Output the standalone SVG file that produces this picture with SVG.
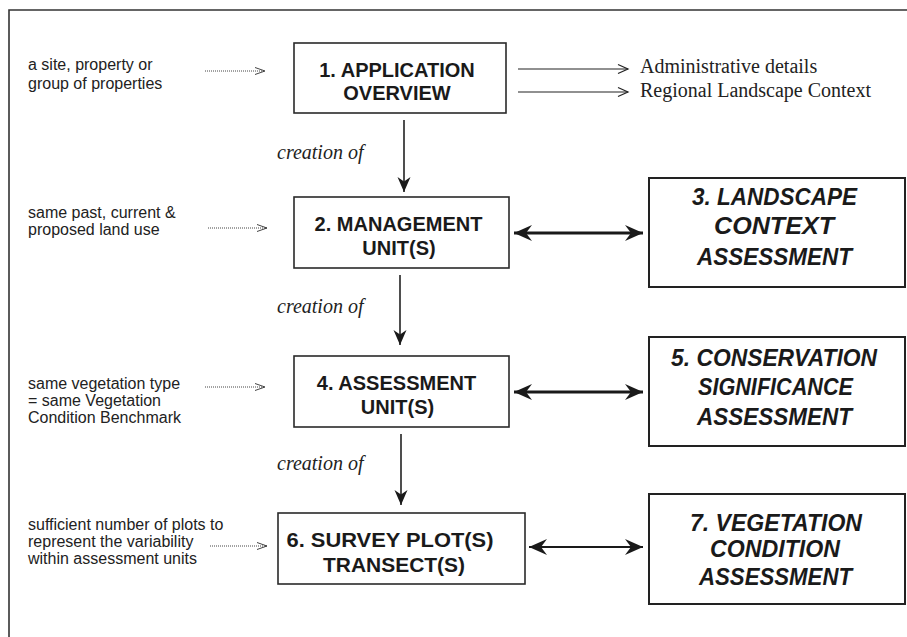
<svg xmlns="http://www.w3.org/2000/svg" width="907" height="637" viewBox="0 0 907 637">
<style>
.box{fill:#fff;stroke:#2a2a2a;stroke-width:1.6}
.bigbox{fill:#fff;stroke:#222;stroke-width:2}
.t{font-family:"Liberation Sans",Arial,sans-serif;font-weight:bold;font-size:20px;fill:#1a1a1a;text-anchor:middle}
.ti{font-family:"Liberation Sans",Arial,sans-serif;font-weight:bold;font-style:italic;font-size:24px;fill:#1a1a1a;text-anchor:middle}
.note{font-family:"Liberation Sans",Arial,sans-serif;font-size:16px;fill:#222}
.serif{font-family:"Liberation Serif","Times New Roman",serif;font-size:20px;fill:#222}
.it{font-family:"Liberation Serif","Times New Roman",serif;font-style:italic;font-size:20px;fill:#222}
.frame{fill:none;stroke:#333;stroke-width:1.6}
.down{stroke:#222;stroke-width:1.6;fill:none;marker-end:url(#fill)}
.dbl{stroke:#1a1a1a;stroke-width:3;fill:none;marker-start:url(#big);marker-end:url(#big)}
.dbl2{stroke:#1a1a1a;stroke-width:2.2;fill:none;marker-start:url(#big);marker-end:url(#big)}
.thin{stroke:#222;stroke-width:1.2;fill:none;marker-end:url(#open)}
.dot{stroke:#444;stroke-width:1;stroke-dasharray:1 1;fill:none;marker-end:url(#openS)}
</style>
<defs>
<marker id="fill" markerUnits="userSpaceOnUse" markerWidth="16" markerHeight="16" viewBox="-16 -8 16 16" refX="0" refY="0" orient="auto">
<path d="M0,0 L-15,-6.5 L-10.5,0 L-15,6.5 Z" fill="#1a1a1a"/>
</marker>
<marker id="big" markerUnits="userSpaceOnUse" markerWidth="20" markerHeight="20" viewBox="-20 -10 20 20" refX="0" refY="0" orient="auto-start-reverse">
<path d="M0,0 L-18,-8 L-12,0 L-18,8 Z" fill="#1a1a1a"/>
</marker>
<marker id="open" markerUnits="userSpaceOnUse" markerWidth="14" markerHeight="12" viewBox="-12 -6 14 12" refX="0" refY="0" orient="auto">
<path d="M-10,-4.5 L0,0 L-10,4.5" fill="none" stroke="#222" stroke-width="1.2"/>
</marker>
<marker id="openS" markerUnits="userSpaceOnUse" markerWidth="14" markerHeight="12" viewBox="-12 -6 14 12" refX="0" refY="0" orient="auto">
<path d="M-10,-3.5 L0,0 L-10,3.5" fill="none" stroke="#444" stroke-width="1"/>
</marker>
</defs>

<path class="frame" d="M9,637 L9,10 L907,10"/>

<g id="connectors">
<line class="down" x1="404" y1="120" x2="404" y2="192"/>
<line class="down" x1="400" y1="275" x2="400" y2="345"/>
<line class="down" x1="401" y1="434" x2="401" y2="505"/>
<line class="dbl" x1="514" y1="233" x2="643" y2="233"/>
<line class="dbl" x1="514" y1="392" x2="643" y2="392"/>
<line class="dbl2" x1="529" y1="547" x2="643" y2="547"/>
<line class="thin" x1="518" y1="69" x2="628" y2="69"/>
<line class="thin" x1="518" y1="92" x2="628" y2="92"/>
<line class="dot" x1="205" y1="71" x2="265" y2="71"/>
<line class="dot" x1="208" y1="228" x2="267" y2="228"/>
<line class="dot" x1="205" y1="387" x2="265" y2="387"/>
<line class="dot" x1="210" y1="546" x2="267" y2="546"/>
<text class="it" x="277" y="159">creation of</text>
<text class="it" x="277" y="313">creation of</text>
<text class="it" x="277" y="470">creation of</text>
</g>

<g id="note1">
<text class="note" x="28" y="70">a site, property or</text>
<text class="note" x="28" y="89">group of properties</text>
</g>
<g id="note2">
<text class="note" x="28" y="218">same past, current &amp;</text>
<text class="note" x="28" y="235">proposed land use</text>
</g>
<g id="note3">
<text class="note" x="28" y="389">same vegetation type</text>
<text class="note" x="28" y="406">= same Vegetation</text>
<text class="note" x="28" y="423">Condition Benchmark</text>
</g>
<g id="note4">
<text class="note" x="28" y="530">sufficient number of plots to</text>
<text class="note" x="28" y="547">represent the variability</text>
<text class="note" x="28" y="564">within assessment units</text>
</g>

<g id="admin"><text class="serif" x="640" y="73">Administrative details</text></g>
<g id="regional"><text class="serif" x="640" y="97">Regional Landscape Context</text></g>

<g id="n1">
<rect class="box" x="294" y="43" width="212" height="70"/>
<text class="t" x="397" y="77">1. APPLICATION</text>
<text class="t" x="397" y="100">OVERVIEW</text>
</g>
<g id="n2">
<rect class="box" x="294" y="197" width="215" height="71"/>
<text class="t" x="398.5" y="231">2. MANAGEMENT</text>
<text class="t" x="399" y="255">UNIT(S)</text>
</g>
<g id="n3">
<rect class="bigbox" x="649" y="178" width="256" height="109"/>
<text class="ti" x="774.5" y="205" textLength="165" lengthAdjust="spacingAndGlyphs">3. LANDSCAPE</text>
<text class="ti" x="774" y="234" textLength="120" lengthAdjust="spacingAndGlyphs">CONTEXT</text>
<text class="ti" x="774.5" y="265" textLength="155" lengthAdjust="spacingAndGlyphs">ASSESSMENT</text>
</g>
<g id="n4">
<rect class="box" x="294" y="356" width="215" height="71"/>
<text class="t" x="396.5" y="390">4. ASSESSMENT</text>
<text class="t" x="397.5" y="414">UNIT(S)</text>
</g>
<g id="n5">
<rect class="bigbox" x="649" y="337" width="256" height="109"/>
<text class="ti" x="774" y="366" textLength="206" lengthAdjust="spacingAndGlyphs">5. CONSERVATION</text>
<text class="ti" x="775.5" y="395" textLength="155" lengthAdjust="spacingAndGlyphs">SIGNIFICANCE</text>
<text class="ti" x="774.5" y="425" textLength="155" lengthAdjust="spacingAndGlyphs">ASSESSMENT</text>
</g>
<g id="n6">
<rect class="box" x="278" y="513" width="247" height="71"/>
<text class="t" x="390" y="547" textLength="207" lengthAdjust="spacingAndGlyphs">6. SURVEY PLOT(S)</text>
<text class="t" x="394" y="572" textLength="142" lengthAdjust="spacingAndGlyphs">TRANSECT(S)</text>
</g>
<g id="n7">
<rect class="bigbox" x="649" y="494" width="256" height="110"/>
<text class="ti" x="776" y="531" textLength="172" lengthAdjust="spacingAndGlyphs">7. VEGETATION</text>
<text class="ti" x="775" y="557" textLength="130" lengthAdjust="spacingAndGlyphs">CONDITION</text>
<text class="ti" x="775.5" y="585" textLength="153" lengthAdjust="spacingAndGlyphs">ASSESSMENT</text>
</g>
</svg>
